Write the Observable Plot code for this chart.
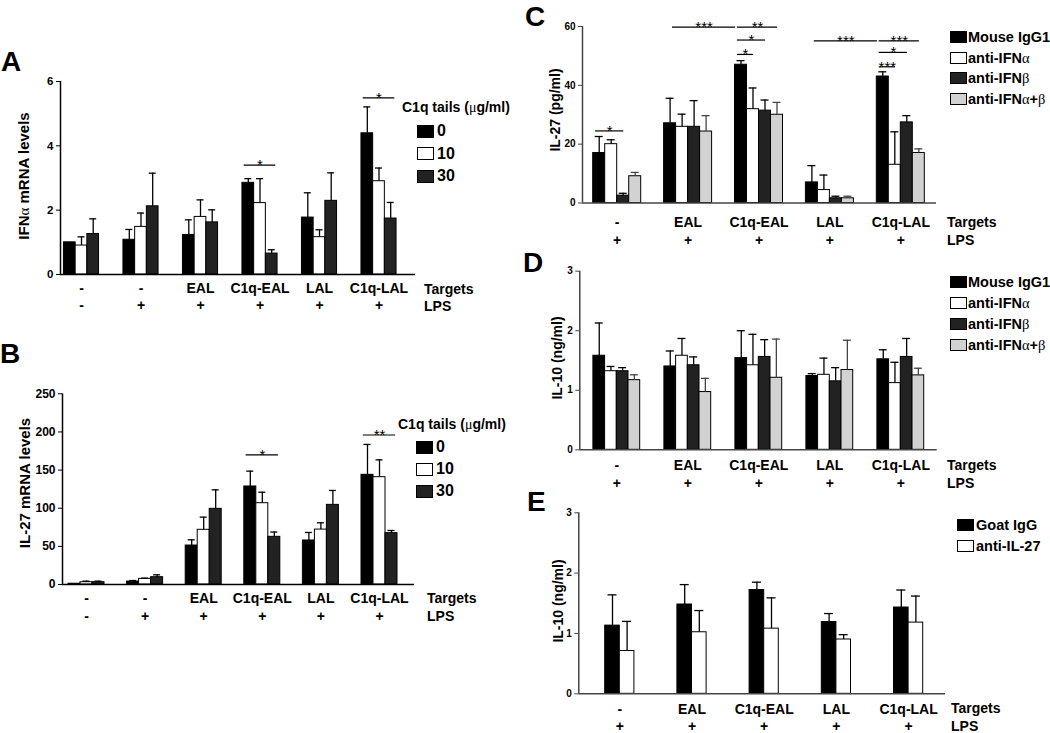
<!DOCTYPE html>
<html>
<head>
<meta charset="utf-8">
<script src="https://cdn.jsdelivr.net/npm/d3@7"></script>
<script src="https://cdn.jsdelivr.net/npm/@observablehq/plot@0.6"></script>
<style>
  body { margin: 0; background: #fff; }
  #fig { position: relative; width: 1050px; height: 733px; overflow: hidden; background: #fff;
         font-family: "Liberation Sans", Arial, Helvetica, sans-serif; font-weight: bold; color: #000; }
  #fig svg { position: absolute; left: 0; top: 0; }
  .t { position: absolute; white-space: nowrap; line-height: 1; }
  .g { font-family: "Liberation Serif", "DejaVu Serif", serif; font-weight: normal; }
  .sw { position: absolute; box-sizing: border-box; border: 1px solid #000; }
</style>
</head>
<body>
<div id="fig"></div>
<script>
// ---------------- DATA ----------------
const targetsAB = ["-", "-", "EAL", "C1q-EAL", "LAL", "C1q-LAL"];
const lpsAB = ["-", "+", "+", "+", "+", "+"];
const targetsCDE = ["-", "EAL", "C1q-EAL", "LAL", "C1q-LAL"];
const lpsCDE = ["+", "+", "+", "+", "+"];
const tails = ["0", "10", "30"];
const antibodiesCD = ["Mouse IgG1", "anti-IFNα", "anti-IFNβ", "anti-IFNα+β"];
const antibodiesE = ["Goat IgG", "anti-IL-27"];
const tailsTitle = "C1q tails (μg/ml)";
const yTitleA = "IFNα mRNA levels";
const yTitleB = "IL-27 mRNA levels";
const yTitleC = "IL-27 (pg/ml)";
const yTitleD = "IL-10 (ng/ml)";
const yTitleE = "IL-10 (ng/ml)";

// Panel A: IFNα mRNA (mean, SEM) per C1q tails dose
const aMean0  = [1.00, 1.08, 1.23, 2.85, 1.77, 4.39];
const aSem0   = [0.00, 0.32, 0.47, 0.13, 0.77, 0.82];
const aMean10 = [0.90, 1.48, 1.79, 2.22, 1.16, 2.90];
const aSem10  = [0.27, 0.43, 0.53, 0.76, 0.23, 0.41];
const aMean30 = [1.26, 2.12, 1.62, 0.65, 2.29, 1.74];
const aSem30  = [0.47, 1.03, 0.39, 0.12, 0.87, 0.50];
const ticksA = [0, 2, 4, 6];
const sigA = [
  {g1: 3, k1: 0, g2: 3, k2: 2, y: 3.4, label: "*"},
  {g1: 5, k1: 0, g2: 5, k2: 2, y: 5.49, label: "*"}
];

// Panel B: IL-27 mRNA
const bMean0  = [1.0, 3.9, 51.1, 128.5, 57.7, 143.8];
const bSem0   = [0.0, 1.3, 7.5, 20.1, 10.5, 39.8];
const bMean10 = [3.0, 7.4, 71.7, 106.6, 72.0, 140.7];
const bSem10  = [1.4, 0.9, 16.6, 14.4, 8.9, 22.7];
const bMean30 = [3.0, 9.6, 99.2, 62.5, 104.4, 67.3];
const bSem30  = [1.4, 3.1, 24.9, 6.3, 18.9, 3.5];
const ticksB = [0, 50, 100, 150, 200, 250];
const sigB = [
  {g1: 3, k1: 0, g2: 3, k2: 2, y: 170, label: "*"},
  {g1: 5, k1: 0, g2: 5, k2: 2, y: 196, label: "**"}
];

// Panel C: IL-27 protein (pg/ml)
const cMeanIgG = [17.0, 27.1, 47.0, 7.0, 43.0];
const cSemIgG  = [5.6, 8.5, 1.4, 5.7, 1.6];
const cMeanA   = [20.0, 25.9, 31.9, 4.4, 13.0];
const cSemA    = [1.5, 4.3, 7.2, 5.1, 11.2];
const cMeanB   = [2.5, 25.9, 31.4, 1.6, 27.4];
const cSemB    = [0.8, 8.9, 3.6, 0.7, 2.3];
const cMeanAB  = [9.1, 24.3, 30.0, 1.6, 17.0];
const cSemAB   = [1.3, 5.4, 4.2, 0.7, 1.4];
const ticksC = [0, 20, 40, 60];
const sigC = [
  {g1: 0, k1: 0, g2: 0, k2: 2, y: 24.5, label: "*"},
  {g1: 1, k1: 0, g2: 2, k2: 0, y: 59.8, label: "***"},
  {g1: 2, k1: 0, g2: 2, k2: 3, y: 59.8, label: "**"},
  {g1: 2, k1: 0, g2: 2, k2: 2, y: 55.4, label: "*"},
  {g1: 2, k1: 0, g2: 2, k2: 1, y: 50.5, label: "*"},
  {g1: 3, k1: 0, g2: 4, k2: 0, y: 55.1, label: "***"},
  {g1: 4, k1: 0, g2: 4, k2: 3, y: 55.1, label: "***"},
  {g1: 4, k1: 0, g2: 4, k2: 2, y: 51.2, label: "*"},
  {g1: 4, k1: 0, g2: 4, k2: 1, y: 46.3, label: "***"}
];

// Panel D: IL-10 (ng/ml), IFN blocking
const dMeanIgG = [1.58, 1.40, 1.54, 1.24, 1.52];
const dSemIgG  = [0.55, 0.26, 0.46, 0.04, 0.16];
const dMeanA   = [1.32, 1.58, 1.42, 1.26, 1.12];
const dSemA    = [0.08, 0.29, 0.52, 0.28, 0.35];
const dMeanB   = [1.32, 1.42, 1.56, 1.15, 1.56];
const dSemB    = [0.06, 0.14, 0.29, 0.23, 0.31];
const dMeanAB  = [1.17, 0.97, 1.21, 1.34, 1.25];
const dSemAB   = [0.09, 0.23, 0.65, 0.50, 0.12];
const ticksD = [0, 1, 2, 3];

// Panel E: IL-10 (ng/ml), IL-27 blocking
const eMeanGoat = [1.13, 1.48, 1.72, 1.19, 1.43];
const eSemGoat  = [0.51, 0.33, 0.13, 0.14, 0.29];
const eMeanAnti = [0.71, 1.02, 1.08, 0.90, 1.18];
const eSemAnti  = [0.49, 0.36, 0.51, 0.08, 0.44];
const ticksE = [0, 1, 2, 3];

// ---------------- DRAWING ----------------
const FONT = '"Liberation Sans", Arial, Helvetica, sans-serif';
const W = 1050, H = 733;
const fig = document.getElementById("fig");
const BLACK = "#000", WHITE = "#fff", DARK = "#222", LIGHT = "#d2d2d2";

const greek = s => s.replace(/([αβμ])/g, '<span class="g">$1</span>');

function txt(html, left, cy, size, extra = "") {
  const d = document.createElement("div");
  d.className = "t";
  d.style.cssText = `left:${left}px;top:${cy}px;font-size:${size}px;transform:translateY(-50%);${extra}`;
  d.innerHTML = html;
  fig.appendChild(d);
}
function ylab(html, cx, cy, size) {
  const d = document.createElement("div");
  d.className = "t";
  d.style.cssText = `left:${cx}px;top:${cy}px;font-size:${size}px;transform:translate(-50%,-50%) rotate(-90deg);`;
  d.innerHTML = html;
  fig.appendChild(d);
}
function swatch(left, cy, w, h, fill) {
  const d = document.createElement("div");
  d.className = "sw";
  d.style.cssText = `left:${left}px;top:${cy - h / 2}px;width:${w}px;height:${h}px;background:${fill};`;
  fig.appendChild(d);
}

const edgeX = (d, cx, bwU) => [cx(d.g1, d.k1) - 0.35 * bwU, cx(d.g2, d.k2) + 0.35 * bwU];
const bracketX = (d, cx, bwU) => d.g1 === d.g2
  ? [cx(d.g1, d.k1) - 0.3 * bwU, cx(d.g2, d.k2) + 0.05 * bwU]
  : [cx(d.g1, d.k1) + 0.2 * bwU, cx(d.g2, d.k2) - 0.45 * bwU];

function panel(cfg) {
  const {xL, xR, y0, yT, yMax, c0, s, bw, cap, series, cats, lps, ticks, tickFont,
         axisColor, padCat, padLps, sig, sigX} = cfg;
  const ns = series.length, ng = cats.length;
  const bwU = bw / s, capU = cap / s / 2;
  const cx = (g, k) => g + (k - (ns - 1) / 2) * bwU;
  const rows = [];
  series.forEach((ser, k) => ser.mean.forEach((m, g) =>
    rows.push({g, k, mean: m, top: m + ser.sem[g], fill: ser.fill, whisk: ser.whisk || "#000"})));
  const err = rows.filter(d => d.top > d.mean);
  const sigRows = sig.map(d => {
    const [a, b] = sigX(d, cx, bwU);
    return {...d, x1: a, x2: b, xm: (a + b) / 2};
  });
  const x0 = (xL - c0) / s;
  const svg = Plot.plot({
    width: W, height: H,
    marginLeft: xL, marginRight: W - xR, marginTop: yT, marginBottom: H - y0,
    x: {domain: [x0, (xR - c0) / s]},
    y: {domain: [0, yMax]},
    color: {type: "identity"},
    style: {background: "transparent", fontFamily: FONT, fontWeight: "bold", overflow: "visible"},
    marks: [
      Plot.rect(rows, {
        x1: d => cx(d.g, d.k) - bwU / 2, x2: d => cx(d.g, d.k) + bwU / 2,
        y1: 0, y2: "mean", fill: "fill", stroke: "#000", strokeWidth: 1
      }),
      Plot.ruleX(err, {x: d => cx(d.g, d.k), y1: "mean", y2: "top", stroke: "whisk", strokeWidth: 1.3}),
      Plot.ruleY(err, {y: "top", x1: d => cx(d.g, d.k) - capU, x2: d => cx(d.g, d.k) + capU,
                       stroke: "whisk", strokeWidth: 1.3}),
      Plot.ruleY([0], {stroke: axisColor, strokeWidth: 1.5}),
      Plot.ruleX([x0], {y1: 0, y2: yMax, stroke: axisColor, strokeWidth: 1.5}),
      Plot.axisY(ticks, {tickSize: 4, tickPadding: 3, fontSize: tickFont, stroke: axisColor,
                         tickFormat: d => String(d), label: null}),
      Plot.axisX(d3.range(ng), {tickFormat: i => cats[i], tickSize: 0, tickPadding: padCat,
                                fontSize: 14, label: null}),
      Plot.axisX(d3.range(ng), {tickFormat: i => lps[i], tickSize: 0, tickPadding: padLps,
                                fontSize: 14, label: null}),
      Plot.ruleY(sigRows, {y: "y", x1: "x1", x2: "x2", stroke: "#000", strokeWidth: 1.2}),
      Plot.text(sigRows, {x: "xm", y: "y", text: "label", lineAnchor: "bottom", dy: 5,
                          fontSize: 15, fontWeight: "normal"})
    ]
  });
  fig.appendChild(svg);
}

// Panel A
panel({
  xL: 60, xR: 415, y0: 274, yT: 81, yMax: 6, c0: 81, s: 59.5, bw: 11.7, cap: 7,
  series: [
    {mean: aMean0, sem: aSem0, fill: BLACK},
    {mean: aMean10, sem: aSem10, fill: WHITE},
    {mean: aMean30, sem: aSem30, fill: DARK}
  ],
  cats: targetsAB, lps: lpsAB, ticks: ticksA, tickFont: 11.5, axisColor: "#000",
  padCat: 9, padLps: 26, sig: sigA, sigX: edgeX
});
// Panel B
panel({
  xL: 62, xR: 414, y0: 584, yT: 393.3, yMax: 250, c0: 86, s: 58.6, bw: 12, cap: 7,
  series: [
    {mean: bMean0, sem: bSem0, fill: BLACK},
    {mean: bMean10, sem: bSem10, fill: WHITE},
    {mean: bMean30, sem: bSem30, fill: DARK}
  ],
  cats: targetsAB, lps: lpsAB, ticks: ticksB, tickFont: 12, axisColor: "#000",
  padCat: 9, padLps: 27, sig: sigB, sigX: edgeX
});
// Panel C
const cdFills = [BLACK, WHITE, DARK, LIGHT];
panel({
  xL: 582, xR: 936, y0: 202.5, yT: 26, yMax: 60, c0: 616.7, s: 70.9, bw: 12, cap: 8,
  series: [
    {mean: cMeanIgG, sem: cSemIgG, fill: BLACK},
    {mean: cMeanA, sem: cSemA, fill: WHITE},
    {mean: cMeanB, sem: cSemB, fill: DARK},
    {mean: cMeanAB, sem: cSemAB, fill: LIGHT, whisk: "#444"}
  ],
  cats: targetsCDE, lps: lpsCDE, ticks: ticksC, tickFont: 10, axisColor: "#444",
  padCat: 14.5, padLps: 32.5, sig: sigC, sigX: bracketX
});
// Panel D
panel({
  xL: 579.3, xR: 936.7, y0: 449.3, yT: 270.7, yMax: 3, c0: 616.3, s: 71, bw: 11.7, cap: 8,
  series: [
    {mean: dMeanIgG, sem: dSemIgG, fill: BLACK},
    {mean: dMeanA, sem: dSemA, fill: WHITE},
    {mean: dMeanB, sem: dSemB, fill: DARK},
    {mean: dMeanAB, sem: dSemAB, fill: LIGHT, whisk: "#444"}
  ],
  cats: targetsCDE, lps: lpsCDE, ticks: ticksD, tickFont: 10, axisColor: "#444",
  padCat: 10.7, padLps: 28.7, sig: [], sigX: bracketX
});
// Panel E
panel({
  xL: 578.3, xR: 945, y0: 693.3, yT: 512.3, yMax: 3, c0: 619.3, s: 72.2, bw: 14.6, cap: 9,
  series: [
    {mean: eMeanGoat, sem: eSemGoat, fill: BLACK},
    {mean: eMeanAnti, sem: eSemAnti, fill: WHITE}
  ],
  cats: targetsCDE, lps: lpsCDE, ticks: ticksE, tickFont: 10, axisColor: "#444",
  padCat: 10.7, padLps: 27, sig: [], sigX: bracketX
});

// Panel letters
txt("A", 1, 62, 28); txt("B", 0, 354, 28); txt("C", 525, 16.5, 28);
txt("D", 523, 263, 28); txt("E", 527, 502, 28);

// Y titles
ylab(greek(yTitleA), 24, 176, 15);
ylab(greek(yTitleB), 24, 483, 15);
ylab(greek(yTitleC), 555, 110, 14);
ylab(greek(yTitleD), 557, 358, 14);
ylab(greek(yTitleE), 558, 601, 14);

// Row labels
txt("Targets", 424, 289, 14); txt("LPS", 424, 306, 14);
txt("Targets", 427, 598, 14); txt("LPS", 427, 616, 14);
txt("Targets", 947, 222, 14); txt("LPS", 947, 240, 14);
txt("Targets", 947, 465, 14); txt("LPS", 947, 483, 14);
txt("Targets", 951, 708, 14); txt("LPS", 951, 725.5, 14);

// Legends
const abFills = [BLACK, WHITE, DARK];
txt(greek(tailsTitle), 402, 107, 14);
tails.forEach((t, k) => { swatch(417, 131 + k * 22.5, 17, 13, abFills[k]); txt(t, 437, 131 + k * 22.5, 16); });
txt(greek(tailsTitle), 398, 424, 14);
tails.forEach((t, k) => { swatch(416, 447 + k * 22, 17, 13, abFills[k]); txt(t, 436, 447 + k * 22, 16); });
antibodiesCD.forEach((t, k) => { swatch(950, 36.7 + k * 20.8, 17, 12, cdFills[k]); txt(greek(t), 968, 36.7 + k * 20.8, 14.5); });
antibodiesCD.forEach((t, k) => { swatch(950, 282 + k * 21, 17, 12, cdFills[k]); txt(greek(t), 968, 282 + k * 21, 14.5); });
antibodiesE.forEach((t, k) => { swatch(957, 525 + k * 21, 17, 12, [BLACK, WHITE][k]); txt(greek(t), 976, 525 + k * 21, 14.5); });
</script>
</body>
</html>
